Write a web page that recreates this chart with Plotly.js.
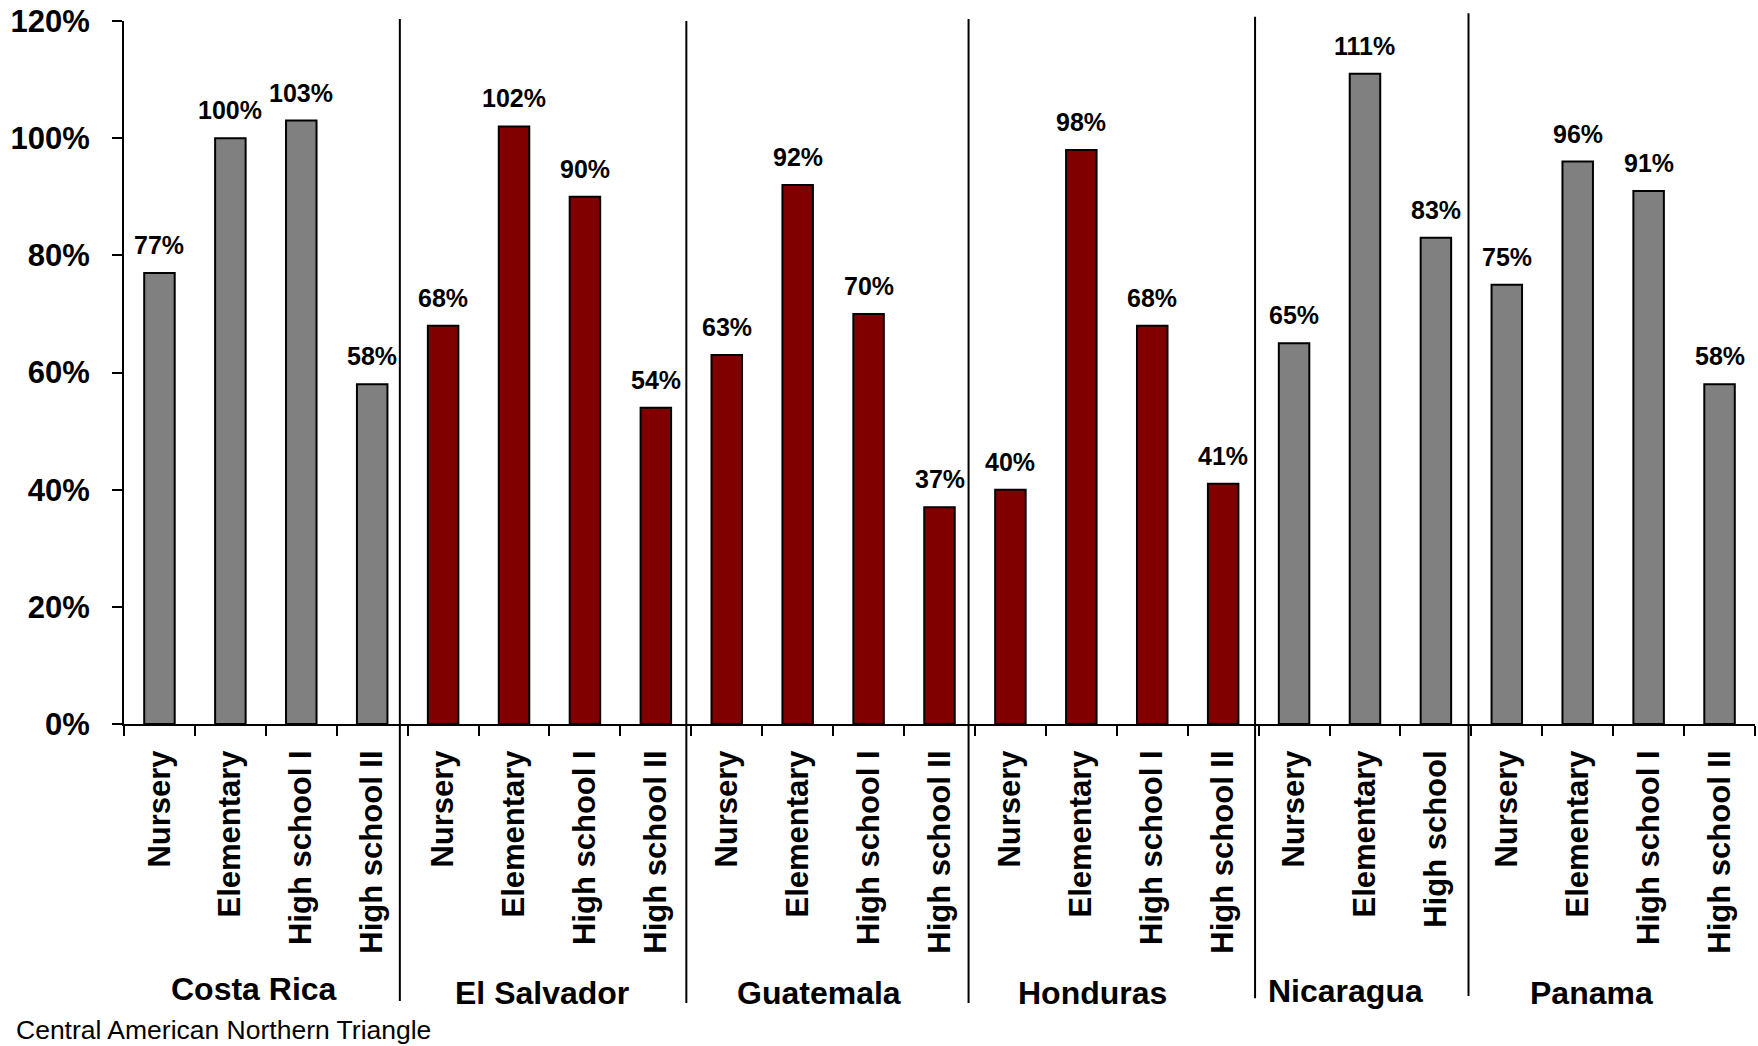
<!DOCTYPE html>
<html>
<head>
<meta charset="utf-8">
<script src="https://cdn.plot.ly/plotly-3.0.1.min.js"></script>
<style>
  html, body { margin: 0; padding: 0; background: #ffffff; }
  #chart { width: 1758px; height: 1046px; }
</style>
</head>
<body>
<div id="chart"></div>
<script>
// ---- Data ----
const countries = ["Costa Rica", "El Salvador", "Guatemala", "Honduras", "Nicaragua", "Panama"];
const levelsFour = ["Nursery", "Elementary", "High school I", "High school II"];
const levelsNicaragua = ["Nursery", "Elementary", "High school"];

const costaRicaValues   = [77, 100, 103, 58];
const elSalvadorValues  = [68, 102, 90, 54];
const guatemalaValues   = [63, 92, 70, 37];
const hondurasValues    = [40, 98, 68, 41];
const nicaraguaValues   = [65, 111, 83];
const panamaValues      = [75, 96, 91, 58];

const countryLevels = [levelsFour, levelsFour, levelsFour, levelsFour, levelsNicaragua, levelsFour];
const countryValues = [costaRicaValues, elSalvadorValues, guatemalaValues, hondurasValues, nicaraguaValues, panamaValues];

const footnote = "Central American Northern Triangle";

// ---- Styles ----
const GRAY = "#808080";
const MAROON = "#800000";
const countryColors = [GRAY, MAROON, MAROON, MAROON, GRAY, GRAY];
const FONT = "Liberation Sans, Arial, Helvetica, sans-serif";

// positions of group labels and separators (category index units / paper units)
const groupLabelX = [1.33, 5.40, 9.30, 13.16, 16.72, 20.20];
const groupLabelY = [-0.377, -0.382, -0.383, -0.383, -0.380, -0.383];
const separatorX = [3.39, 7.43, 11.41, 15.45, 18.46];
const separatorTop = [1.003, 1.0, 1.003, 1.006, 1.011];
const separatorBottom = [-0.394, -0.397, -0.397, -0.390, -0.387];

// ---- Build traces ----
const traces = [];
const tickvals = [];
const ticktext = [];
const annotations = [];

countries.forEach((c, ci) => {
  const xs = countryLevels[ci].map(l => c + "|" + l);
  const ys = countryValues[ci].map(v => v / 100);
  xs.forEach((x, i) => { tickvals.push(x); ticktext.push(countryLevels[ci][i]); });
  traces.push({
    type: "bar",
    x: xs,
    y: ys,
    name: c,
    width: 0.43,
    marker: { color: countryColors[ci], line: { color: "#000000", width: 2 } },
    hoverinfo: "x+y",
    showlegend: false
  });
  ys.forEach((y, i) => {
    annotations.push({
      x: xs[i], y: y, xref: "x", yref: "y",
      text: countryValues[ci][i] + "%",
      showarrow: false, yanchor: "bottom", yshift: 12,
      font: { family: FONT, size: 25, weight: "bold", color: "#000000" }
    });
  });
  annotations.push({
    x: groupLabelX[ci], y: groupLabelY[ci], xref: "x", yref: "paper",
    text: c, showarrow: false, xanchor: "center", yanchor: "middle",
    font: { family: FONT, size: 32, weight: "bold", color: "#000000" }
  });
});

annotations.push({
  x: -0.0672, y: -0.435, xref: "paper", yref: "paper",
  text: footnote, showarrow: false, xanchor: "left", yanchor: "middle",
  font: { family: FONT, size: 26.5, color: "#000000" }
});

const shapes = separatorX.map((sx, i) => ({
  type: "line", xref: "x", yref: "paper",
  x0: sx, x1: sx, y0: separatorBottom[i], y1: separatorTop[i],
  line: { color: "#000000", width: 2 }
}));

const layout = {
  width: 1758, height: 1046,
  margin: { l: 124, r: 3, t: 21, b: 322 },
  paper_bgcolor: "#ffffff", plot_bgcolor: "#ffffff",
  barmode: "overlay",
  font: { family: FONT, color: "#000000" },
  xaxis: {
    type: "category",
    tickmode: "array", tickvals: tickvals, ticktext: ticktext,
    tickson: "boundaries", ticks: "outside", ticklen: 10, tickwidth: 2, tickcolor: "#000000",
    tickangle: -90, ticklabelstandoff: 12,
    tickfont: { family: FONT, size: 31, weight: "bold", color: "#000000" },
    showline: true, linecolor: "#000000", linewidth: 2,
    showgrid: false, zeroline: false, fixedrange: true
  },
  yaxis: {
    range: [0, 1.2], dtick: 0.2, tick0: 0, tickformat: ".0%",
    ticks: "outside", ticklen: 10, tickwidth: 2, tickcolor: "#000000",
    ticklabelstandoff: 16,
    tickfont: { family: FONT, size: 31, weight: "bold", color: "#000000" },
    showline: true, linecolor: "#000000", linewidth: 2,
    showgrid: false, zeroline: false, fixedrange: true
  },
  annotations: annotations,
  shapes: shapes
};

Plotly.newPlot("chart", traces, layout, { displayModeBar: false, staticPlot: true });
</script>
</body>
</html>
